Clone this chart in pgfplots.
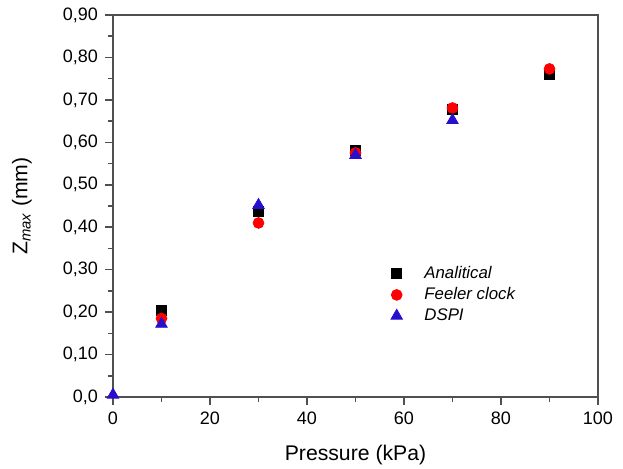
\documentclass[border=0pt]{standalone}
\usepackage{fontspec}
\setmainfont{Liberation Sans}
\usepackage{pgfplots}
\pgfplotsset{compat=1.18}
\definecolor{axgray}{RGB}{80,80,80}
\definecolor{dspiblue}{RGB}{40,15,205}
\begin{document}
\begin{tikzpicture}
\useasboundingbox (-56.5pt,-36pt) rectangle (255pt,198.5pt);
\begin{axis}[
  scale only axis,
  width=242.5pt, height=191pt,
  xmin=0, xmax=100, ymin=0, ymax=0.9,
  clip=false,
  axis line style={axgray, line width=1pt},
  tick style={axgray, line width=0.8pt},
  tick align=outside,
  xtick pos=bottom, ytick pos=left,
  major tick length=4pt, minor tick length=2.5pt,
  xtick={0,20,40,60,80,100},
  xticklabels={0,20,40,60,80,100},
  minor xtick={10,30,50,70,90},
  ytick={0,0.1,0.2,0.3,0.4,0.5,0.6,0.7,0.8,0.9},
  yticklabels={{0,0},{0,10},{0,20},{0,30},{0,40},{0,50},{0,60},{0,70},{0,80},{0,90}},
  minor ytick={0.05,0.15,0.25,0.35,0.45,0.55,0.65,0.75,0.85},
  ticklabel style={font=\fontsize{9}{11}\selectfont},
  xlabel={Pressure (kPa)},
  ylabel={Z$_{\mathit{max}}$ (mm)},
  label style={font=\fontsize{10.6}{12}\selectfont},
  xlabel style={at={(axis description cs:0.5,0)}, anchor=center, yshift=-29pt},
  ylabel style={at={(axis description cs:-0.188,0.5)}, anchor=center, rotate=0},
  legend style={draw=none, fill=none, at={(axis cs:56,0.328)}, anchor=north west,
    font=\fontsize{8.4}{10}\selectfont\itshape, row sep=-1pt, column sep=9pt},
  legend cell align=left,
]
\addplot[only marks, mark=square*, mark size=2.5pt, black] coordinates {
  (10,0.203) (30,0.438) (50,0.580) (70,0.678) (90,0.760)};
\addlegendentry{Analitical}
\addplot[only marks, mark=*, mark size=2.7pt, red] coordinates {
  (10,0.185) (30,0.410) (50,0.575) (70,0.681) (90,0.773)};
\addlegendentry{Feeler clock}
\addplot[only marks, mark=triangle*, mark size=3.3pt, dspiblue] coordinates {
  (0,0.005) (10,0.172) (30,0.452) (50,0.570) (70,0.652)};
\addlegendentry{DSPI}
\end{axis}
\end{tikzpicture}
\end{document}
